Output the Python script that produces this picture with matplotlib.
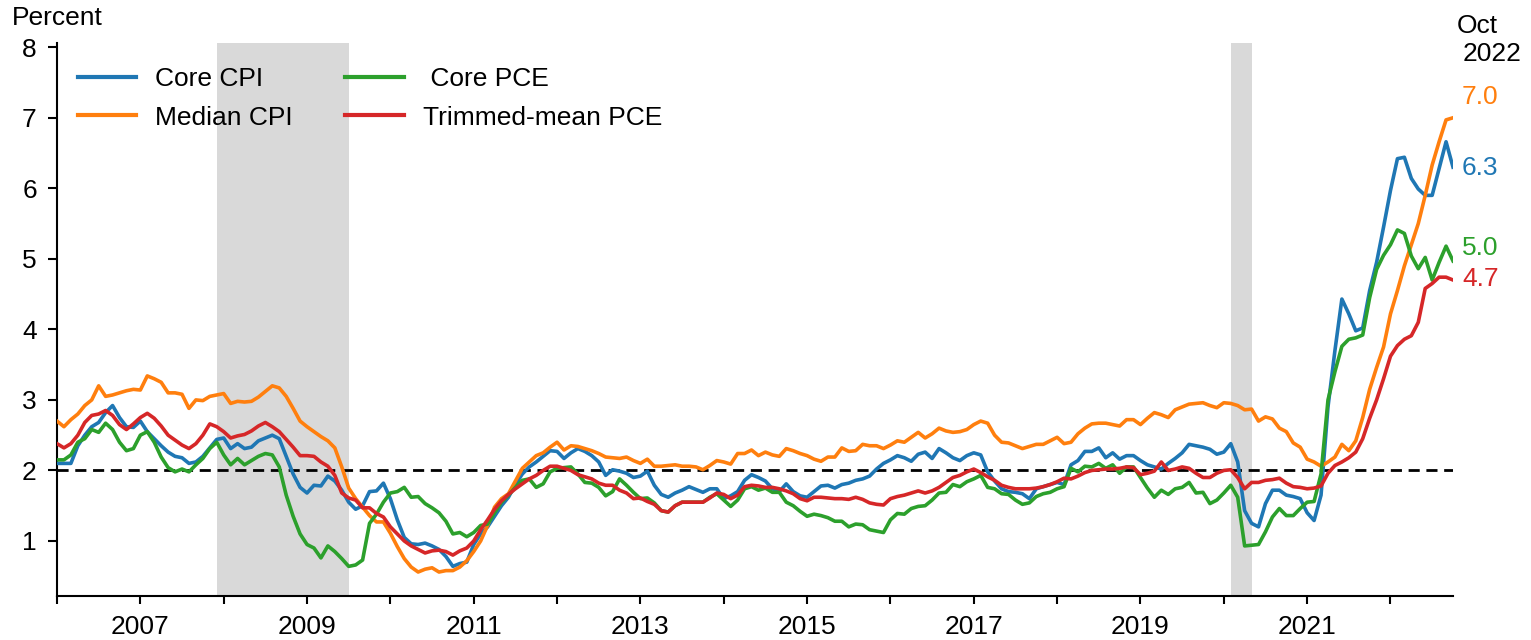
import numpy as np
import matplotlib
matplotlib.use("Agg")
import matplotlib.pyplot as plt

plt.rcParams['font.family'] = ['Liberation Sans', 'DejaVu Sans']

start_year = 2006
end_label = ["Oct", "2022"]

core_cpi = [
    2.10, 2.10, 2.10, 2.35, 2.50, 2.62, 2.68, 2.82, 2.92, 2.75, 2.62, 2.61,
    2.70, 2.55, 2.45, 2.35, 2.26, 2.20, 2.18, 2.10, 2.12, 2.20, 2.32, 2.44,
    2.46, 2.31, 2.38, 2.31, 2.33, 2.42, 2.46, 2.50, 2.45, 2.20, 1.95, 1.76,
    1.68, 1.79, 1.78, 1.92, 1.85, 1.72, 1.55, 1.45, 1.50, 1.70, 1.71, 1.82,
    1.60, 1.30, 1.05, 0.96, 0.95, 0.97, 0.93, 0.88, 0.78, 0.64, 0.68, 0.70,
    0.95, 1.10, 1.20, 1.35, 1.50, 1.62, 1.80, 1.95, 2.05, 2.12, 2.20, 2.28,
    2.27, 2.17, 2.25, 2.31, 2.27, 2.21, 2.12, 1.93, 2.01, 1.99, 1.96, 1.90,
    1.92, 1.99, 1.79, 1.66, 1.62, 1.68, 1.72, 1.77, 1.73, 1.69, 1.74, 1.74,
    1.60, 1.64, 1.70, 1.86, 1.94, 1.90, 1.85, 1.74, 1.70, 1.81, 1.70, 1.64,
    1.62, 1.70, 1.78, 1.79, 1.75, 1.80, 1.82, 1.86, 1.88, 1.92, 2.02, 2.10,
    2.15, 2.21, 2.18, 2.13, 2.23, 2.26, 2.17, 2.31, 2.25, 2.18, 2.14, 2.21,
    2.25, 2.22, 1.98, 1.85, 1.74, 1.70, 1.69, 1.67, 1.60, 1.74, 1.77, 1.80,
    1.83, 1.80, 2.08, 2.14, 2.27, 2.27, 2.32, 2.18, 2.25, 2.16, 2.21, 2.21,
    2.14, 2.08, 2.05, 2.02, 2.10, 2.17, 2.25, 2.37, 2.35, 2.33, 2.30, 2.23,
    2.26, 2.38, 2.12, 1.43, 1.25, 1.20, 1.53, 1.72, 1.72, 1.65, 1.63, 1.60,
    1.40, 1.29, 1.65, 2.90, 3.70, 4.43, 4.22, 3.98, 4.02, 4.55, 4.95, 5.45,
    5.97, 6.42, 6.44, 6.14, 5.99, 5.90, 5.90, 6.28, 6.66, 6.30,
]

median_cpi = [
    2.70, 2.62, 2.72, 2.80, 2.92, 3.00, 3.20, 3.05, 3.07, 3.10, 3.13, 3.15,
    3.14, 3.34, 3.30, 3.25, 3.10, 3.10, 3.08, 2.88, 3.00, 2.99, 3.05, 3.07,
    3.09, 2.95, 2.98, 2.97, 2.98, 3.04, 3.12, 3.20, 3.17, 3.05, 2.88, 2.70,
    2.62, 2.55, 2.48, 2.42, 2.32, 2.05, 1.75, 1.60, 1.48, 1.36, 1.27, 1.27,
    1.11, 0.92, 0.75, 0.63, 0.56, 0.60, 0.62, 0.56, 0.58, 0.58, 0.63, 0.72,
    0.85, 1.00, 1.22, 1.48, 1.60, 1.67, 1.85, 2.03, 2.12, 2.21, 2.25, 2.33,
    2.40, 2.29, 2.35, 2.34, 2.31, 2.28, 2.24, 2.19, 2.18, 2.17, 2.19, 2.14,
    2.10, 2.16, 2.06, 2.06, 2.07, 2.08, 2.06, 2.06, 2.05, 2.01, 2.07, 2.14,
    2.12, 2.09, 2.24, 2.24, 2.29, 2.21, 2.26, 2.22, 2.20, 2.31, 2.28, 2.24,
    2.21, 2.16, 2.13, 2.19, 2.19, 2.32, 2.27, 2.28, 2.37, 2.35, 2.35, 2.31,
    2.36, 2.42, 2.40, 2.47, 2.54, 2.46, 2.52, 2.60, 2.56, 2.54, 2.55, 2.58,
    2.65, 2.70, 2.67, 2.50, 2.40, 2.39, 2.35, 2.31, 2.34, 2.37, 2.37, 2.42,
    2.47, 2.38, 2.40, 2.52, 2.60, 2.66, 2.67, 2.67, 2.65, 2.63, 2.72, 2.72,
    2.65, 2.74, 2.82, 2.79, 2.75, 2.86, 2.90, 2.94, 2.95, 2.96, 2.92, 2.89,
    2.96, 2.95, 2.92, 2.86, 2.87, 2.70, 2.76, 2.73, 2.60, 2.55, 2.39, 2.33,
    2.16, 2.12, 2.06, 2.12, 2.19, 2.37, 2.28, 2.42, 2.75, 3.15, 3.46, 3.75,
    4.22, 4.55, 4.90, 5.20, 5.50, 5.90, 6.33, 6.66, 6.97, 7.00,
]

core_pce = [
    2.15, 2.15, 2.22, 2.40, 2.45, 2.58, 2.54, 2.67, 2.58, 2.40, 2.28, 2.31,
    2.50, 2.55, 2.40, 2.19, 2.04, 1.98, 2.02, 1.98, 2.08, 2.17, 2.31, 2.40,
    2.22, 2.08, 2.17, 2.08, 2.14, 2.20, 2.24, 2.22, 2.05, 1.65, 1.35, 1.10,
    0.95, 0.90, 0.76, 0.93, 0.85, 0.75, 0.64, 0.66, 0.73, 1.25, 1.38, 1.55,
    1.68, 1.70, 1.76, 1.62, 1.63, 1.53, 1.47, 1.40, 1.28, 1.10, 1.12, 1.06,
    1.12, 1.22, 1.24, 1.40, 1.55, 1.65, 1.76, 1.86, 1.88, 1.76, 1.81, 1.98,
    2.03, 2.04, 2.05, 1.95, 1.83, 1.82, 1.76, 1.64, 1.70, 1.88, 1.79, 1.69,
    1.60, 1.61, 1.54, 1.43, 1.41, 1.50, 1.55, 1.55, 1.55, 1.55, 1.62, 1.67,
    1.58, 1.49, 1.58, 1.74, 1.77, 1.72, 1.75, 1.69, 1.69, 1.55, 1.50, 1.42,
    1.35, 1.38, 1.36, 1.33, 1.28, 1.28, 1.20, 1.24, 1.23, 1.16, 1.14, 1.12,
    1.30, 1.39, 1.38, 1.46, 1.49, 1.50, 1.58, 1.68, 1.69, 1.80, 1.77, 1.84,
    1.88, 1.93, 1.76, 1.74, 1.67, 1.66, 1.58, 1.52, 1.54, 1.63, 1.67, 1.69,
    1.74, 1.77, 2.03, 1.98, 2.06, 2.05, 2.10, 2.03, 2.08, 1.96, 2.05, 2.05,
    1.90, 1.75, 1.62, 1.72, 1.66, 1.74, 1.76, 1.83, 1.68, 1.69, 1.53, 1.58,
    1.68, 1.79, 1.62, 0.93, 0.94, 0.95, 1.13, 1.34, 1.46, 1.36, 1.36, 1.46,
    1.55, 1.56, 1.95, 3.00, 3.40, 3.76, 3.86, 3.88, 3.92, 4.45, 4.85, 5.05,
    5.20, 5.41, 5.36, 5.04, 4.86, 5.02, 4.70, 4.95, 5.18, 4.97,
]

trimmed_pce = [
    2.38, 2.32, 2.38, 2.50, 2.68, 2.78, 2.80, 2.85, 2.78, 2.65, 2.58, 2.66,
    2.75, 2.81, 2.74, 2.63, 2.50, 2.43, 2.36, 2.31, 2.38, 2.50, 2.66, 2.62,
    2.55, 2.46, 2.49, 2.51, 2.56, 2.63, 2.68, 2.62, 2.55, 2.44, 2.33, 2.21,
    2.21, 2.20, 2.12, 2.06, 1.93, 1.68, 1.61, 1.58, 1.47, 1.47, 1.39, 1.34,
    1.20, 1.10, 1.00, 0.93, 0.88, 0.83, 0.86, 0.87, 0.85, 0.80, 0.86, 0.90,
    1.00, 1.16, 1.30, 1.45, 1.57, 1.66, 1.74, 1.81, 1.88, 1.93, 2.00, 2.06,
    2.06, 2.03, 2.00, 1.94, 1.91, 1.88, 1.82, 1.79, 1.79, 1.72, 1.68, 1.60,
    1.61, 1.56, 1.52, 1.43, 1.41, 1.50, 1.55, 1.55, 1.55, 1.55, 1.61, 1.68,
    1.66, 1.60, 1.65, 1.77, 1.79, 1.78, 1.76, 1.76, 1.74, 1.71, 1.67, 1.60,
    1.57, 1.62, 1.62, 1.61, 1.60, 1.60, 1.59, 1.62, 1.59, 1.54, 1.52, 1.51,
    1.60, 1.63, 1.65, 1.68, 1.71, 1.68, 1.71, 1.76, 1.83, 1.90, 1.93, 1.98,
    2.02, 1.97, 1.91, 1.86, 1.79, 1.76, 1.74, 1.74, 1.74, 1.75, 1.77, 1.80,
    1.84, 1.89, 1.88, 1.92, 1.97, 2.00, 2.01, 2.02, 2.02, 2.03, 2.05, 2.04,
    1.94, 1.96, 1.99, 2.12, 2.00, 2.02, 2.05, 2.03, 1.96, 1.90, 1.90, 1.96,
    2.00, 2.01, 1.90, 1.74, 1.83, 1.83, 1.86, 1.87, 1.89, 1.82, 1.77, 1.76,
    1.74, 1.75, 1.78, 1.96, 2.07, 2.12, 2.18, 2.26, 2.45, 2.74, 3.00, 3.30,
    3.62, 3.77, 3.86, 3.91, 4.10, 4.58, 4.65, 4.74, 4.74, 4.70,
]

series_names = ["Core CPI", "Median CPI", " Core PCE", "Trimmed-mean PCE"]
series_values = [core_cpi, median_cpi, core_pce, trimmed_pce]
series_colors = ["#1f77b4", "#ff7f0e", "#2ca02c", "#d62728"]
end_values = ["6.3", "7.0", "5.0", "4.7"]

recessions = [(2007 + 11 / 12, 2009.5), (2020 + 1 / 12, 2020 + 4 / 12)]
target = 2.0
year_ticks = list(range(2006, 2023))
year_labels = [str(y) if y % 2 == 1 and y <= 2021 else "" for y in year_ticks]
y_ticks = [1, 2, 3, 4, 5, 6, 7, 8]

FS = 19

fig = plt.figure(figsize=(15.31, 6.40), dpi=100)
ax = fig.add_axes([57 / 1531, 1 - 596 / 640, (1453 - 57) / 1531, (596 - 43) / 640])

n = len(core_cpi)
x = start_year + np.arange(n) / 12.0

for a, b in recessions:
    ax.axvspan(a, b, color="#d9d9d9", lw=0, zorder=0)

ax.axhline(target, color="black", lw=2.0, linestyle=(0, (4.0, 2.4)), zorder=1)

handles = []
for name, vals, col in zip(series_names, series_values, series_colors):
    h, = ax.plot(x, vals, color=col, lw=2.6, label=name, zorder=3,
                 solid_joinstyle="round")
    handles.append(h)

ax.set_xlim(start_year, x[-1])
ax.set_ylim(0.22, 8.06)
ax.set_xticks(year_ticks)
ax.set_xticklabels(year_labels)
ax.set_yticks(y_ticks)
ax.tick_params(axis="both", labelsize=FS, direction="out", width=1.5, colors="black")
ax.tick_params(axis="x", length=5.5, pad=8)
ax.tick_params(axis="y", length=6.5, pad=8)
for s in ["top", "right"]:
    ax.spines[s].set_visible(False)
for s in ["left", "bottom"]:
    ax.spines[s].set_linewidth(1.5)

leg = ax.legend(handles=handles, ncol=2, frameon=False, fontsize=FS,
                loc="upper left", bbox_to_anchor=(78 / 1531, 1 - 67 / 640),
                bbox_transform=fig.transFigure, borderpad=0, borderaxespad=0,
                handlelength=2.2, handletextpad=0.72, columnspacing=2.0,
                labelspacing=0.55)
for line in leg.get_lines():
    line.set_linewidth(3)

fig.text(12 / 1531, 1 - 18 / 640, "Percent", fontsize=FS, va="center", ha="left")
fig.text(1457 / 1531, 1 - 26 / 640, end_label[0], fontsize=FS, va="center", ha="left")
fig.text(1463 / 1531, 1 - 54 / 640, end_label[1], fontsize=FS, va="center", ha="left")

end_ys = [168, 97, 248, 279]
for txt, col, yy in zip(end_values, series_colors, end_ys):
    fig.text(1462 / 1531, 1 - yy / 640, txt, fontsize=FS, color=col, va="center", ha="left")

fig.savefig("out.png", dpi=100)
